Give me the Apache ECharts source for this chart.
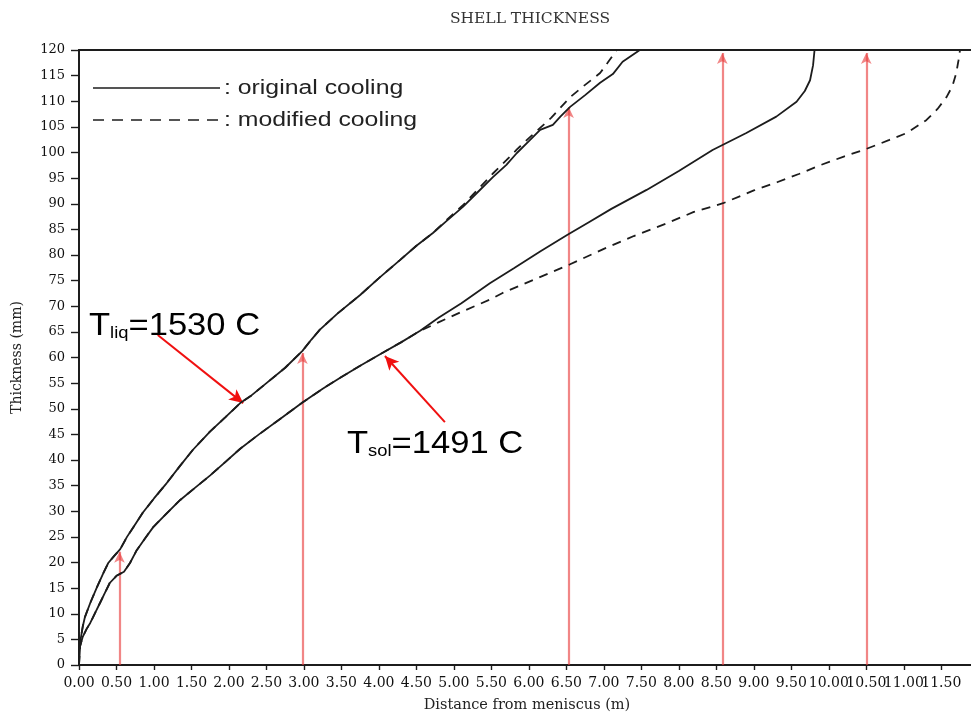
<!DOCTYPE html>
<html>
<head>
<meta charset="utf-8">
<script src="https://cdn.jsdelivr.net/npm/echarts@6/dist/echarts.min.js"></script>
<style>
  html, body { margin: 0; padding: 0; background: #fff; }
  #chart { width: 971px; height: 718px; }
</style>
</head>
<body>
<div id="chart"></div>
<script>
// Shell thickness (mm) against distance from meniscus (m)

// Liquidus front, original cooling
const liquidusOriginal = [
  [0, 0], [0.01, 2.5], [0.02, 4.9], [0.05, 7.5], [0.08, 9.4], [0.15, 12.1], [0.24, 15.2],
  [0.32, 17.8], [0.39, 19.9], [0.47, 21.3], [0.55, 22.6], [0.64, 25.0], [0.74, 27.2],
  [0.85, 29.7], [1.0, 32.5], [1.17, 35.5], [1.35, 38.9], [1.52, 42.0], [1.75, 45.6],
  [1.95, 48.3], [2.15, 51.1], [2.3, 52.6], [2.5, 55.0], [2.75, 58.0], [2.98, 61.3],
  [3.1, 63.5], [3.21, 65.4], [3.45, 68.6], [3.75, 72.2], [4.0, 75.5], [4.28, 79.0],
  [4.5, 81.8], [4.72, 84.3], [4.9, 86.6], [5.12, 89.4], [5.3, 92.0], [5.52, 95.2],
  [5.7, 97.6], [5.84, 99.9], [6.0, 102.2], [6.15, 104.4], [6.32, 105.4], [6.42, 107.0],
  [6.55, 108.9], [6.75, 111.2], [6.95, 113.6], [7.12, 115.3], [7.25, 117.7], [7.48, 120]
];

// Liquidus front, modified cooling
const liquidusModified = [
  [0, 0], [0.01, 2.5], [0.02, 4.9], [0.05, 7.5], [0.08, 9.4], [0.15, 12.1], [0.24, 15.2],
  [0.32, 17.8], [0.39, 19.9], [0.47, 21.3], [0.55, 22.6], [0.64, 25.0], [0.74, 27.2],
  [0.85, 29.7], [1.0, 32.5], [1.17, 35.5], [1.35, 38.9], [1.52, 42.0], [1.75, 45.6],
  [1.95, 48.3], [2.15, 51.1], [2.3, 52.6], [2.5, 55.0], [2.75, 58.0], [2.98, 61.3],
  [3.1, 63.5], [3.21, 65.4], [3.45, 68.6], [3.75, 72.2], [4.0, 75.5], [4.28, 79.0],
  [4.5, 81.8], [4.72, 84.3], [4.9, 86.8], [5.12, 89.7], [5.3, 92.5], [5.52, 95.9],
  [5.7, 98.5], [5.84, 100.6], [6.0, 102.8], [6.15, 104.8], [6.3, 106.8], [6.55, 110.8],
  [6.75, 113.2], [6.95, 115.5], [7.05, 117.5], [7.17, 120]
];

// Solidus front, original cooling
const solidusOriginal = [
  [0, 0], [0.0, 3.0], [0.05, 5.5], [0.1, 7.0], [0.15, 8.2], [0.22, 10.3], [0.28, 12.1],
  [0.35, 14.2], [0.41, 16.0], [0.5, 17.4], [0.6, 18.2], [0.68, 19.9], [0.77, 22.4],
  [0.88, 24.7], [0.99, 26.9], [1.15, 29.3], [1.35, 32.2], [1.55, 34.6], [1.75, 37.0],
  [1.95, 39.6], [2.15, 42.2], [2.4, 45.0], [2.7, 48.2], [2.98, 51.2], [3.25, 53.9],
  [3.5, 56.2], [3.75, 58.4], [4.01, 60.6], [4.3, 63.0], [4.55, 65.2], [4.8, 67.8],
  [5.1, 70.6], [5.48, 74.5], [5.8, 77.4], [6.15, 80.7], [6.51, 83.9], [6.8, 86.4],
  [7.1, 89.0], [7.57, 92.7], [8.0, 96.4], [8.45, 100.5], [8.9, 103.8], [9.3, 107.0],
  [9.57, 109.9], [9.68, 112.0], [9.75, 114.1], [9.79, 117.0], [9.81, 120]
];

// Solidus front, modified cooling
const solidusModified = [
  [0, 0], [0.0, 3.0], [0.05, 5.5], [0.1, 7.0], [0.15, 8.2], [0.22, 10.3], [0.28, 12.1],
  [0.35, 14.2], [0.41, 16.0], [0.5, 17.4], [0.6, 18.2], [0.68, 19.9], [0.77, 22.4],
  [0.88, 24.7], [0.99, 26.9], [1.15, 29.3], [1.35, 32.2], [1.55, 34.6], [1.75, 37.0],
  [1.95, 39.6], [2.15, 42.2], [2.4, 45.0], [2.7, 48.2], [2.98, 51.2], [3.25, 53.9],
  [3.5, 56.2], [3.75, 58.4], [4.01, 60.6], [4.3, 63.0], [4.55, 65.2], [4.8, 66.9],
  [5.1, 68.9], [5.48, 71.3], [5.65, 72.6], [6.1, 75.4], [6.55, 78.2], [7.0, 81.2],
  [7.4, 83.7], [7.84, 86.2], [8.2, 88.4], [8.59, 90.1], [9.0, 92.6], [9.31, 94.2],
  [9.6, 95.8], [9.9, 97.6], [10.2, 99.2], [10.5, 100.7], [10.8, 102.4], [11.04, 103.8],
  [11.3, 106.3], [11.45, 108.5], [11.57, 110.8], [11.65, 113.0], [11.7, 115.5],
  [11.73, 118.0], [11.75, 120]
];

// Sampling stations: distance (m) and thickness (mm) reached by the marker
const stationDistances = [0.54, 2.98, 6.53, 8.58, 10.5];
const stationThickness = [22.1, 60.9, 108.9, 119.4, 119.4];

// Callout arrows: [from distance, from thickness, to distance, to thickness]
const calloutArrows = [
  [1.05, 64.4, 2.19, 51.1],
  [4.88, 47.4, 4.08, 60.3]
];

// Axis ranges
const xRange = { min: 0, max: 11.95, step: 0.5 };
const yRange = { min: 0, max: 120, step: 5 };

const serifFont = 'DejaVu Serif';
const sansFont = 'Liberation Sans';
const ink = '#1c1c1c';

const chart = echarts.init(document.getElementById('chart'), null, { renderer: 'canvas' });

const stationLines = stationDistances.map((d, i) => [
  { coord: [d, 0] },
  { coord: [d, stationThickness[i]] }
]);

const calloutLines = calloutArrows.map(a => [
  { coord: [a[0], a[1]] },
  { coord: [a[2], a[3]] }
]);

function curve(name, data, dashed) {
  return {
    name: name,
    type: 'line',
    data: data,
    showSymbol: false,
    symbol: 'none',
    z: 5,
    lineStyle: { color: ink, width: 1.8, type: dashed ? [9, 7] : 'solid' },
    animation: false,
    silent: true
  };
}

function frontLabel(sub, rest, x, y) {
  return {
    type: 'text', x: x, y: y, z: 10, scaleX: 1.08,
    style: {
      text: '{a|T}{b|' + sub + '}{a|' + rest + '}',
      verticalAlign: 'middle',
      rich: {
        a: { fontFamily: sansFont, fontSize: 32, color: '#111', verticalAlign: 'bottom', lineHeight: 36 },
        b: { fontFamily: sansFont, fontSize: 17, color: '#111', verticalAlign: 'bottom', lineHeight: 36 }
      }
    }
  };
}

chart.setOption({
  animation: false,
  backgroundColor: '#fff',
  title: {
    text: 'SHELL THICKNESS',
    left: 525,
    top: 6,
    textAlign: 'center',
    textStyle: { fontFamily: serifFont, fontSize: 15.5, fontWeight: 'normal', color: '#333' }
  },
  grid: {
    left: 79, top: 50, right: -4, bottom: 53,
    containLabel: false,
    outerBoundsMode: 'none',
    show: true,
    borderColor: ink,
    borderWidth: 1.8,
    backgroundColor: '#fff'
  },
  xAxis: {
    type: 'value',
    min: xRange.min, max: xRange.max, interval: xRange.step,
    name: 'Distance from meniscus (m)',
    nameLocation: 'middle',
    nameGap: 33,
    nameTextStyle: { fontFamily: serifFont, fontSize: 14.5, color: '#222' },
    axisLine: { show: true, onZero: false, lineStyle: { color: ink, width: 1.8 } },
    axisTick: { show: true, length: 5, lineStyle: { color: ink, width: 1.4 } },
    axisLabel: {
      fontFamily: serifFont, fontSize: 14, color: '#111', margin: 11,
      showMaxLabel: false, hideOverlap: false,
      formatter: v => v.toFixed(2)
    },
    splitLine: { show: false }
  },
  yAxis: {
    type: 'value',
    min: yRange.min, max: yRange.max, interval: yRange.step,
    name: 'Thickness (mm)',
    nameLocation: 'middle',
    nameGap: 55,
    nameRotate: 90,
    nameTextStyle: { fontFamily: serifFont, fontSize: 14, color: '#222' },
    axisLine: { show: true, onZero: false, lineStyle: { color: ink, width: 1.8 } },
    axisTick: { show: true, length: 8, lineStyle: { color: ink, width: 1.4 } },
    axisLabel: { fontFamily: serifFont, fontSize: 13, color: '#111', margin: 14 },
    splitLine: { show: false }
  },
  series: [
    {
      name: 'stations',
      type: 'line',
      data: [],
      z: 2,
      silent: true,
      markLine: {
        silent: true,
        animation: false,
        symbol: ['none', 'arrow'],
        symbolSize: [8, 11],
        label: { show: false },
        lineStyle: { color: 'rgba(232, 60, 60, 0.62)', width: 2.2, type: 'solid' },
        emphasis: { disabled: true },
        data: stationLines
      }
    },
    {
      name: 'callouts',
      type: 'line',
      data: [],
      z: 6,
      silent: true,
      markLine: {
        silent: true,
        animation: false,
        symbol: ['none', 'arrow'],
        symbolSize: [10, 14],
        label: { show: false },
        lineStyle: { color: '#f01010', width: 2, type: 'solid' },
        emphasis: { disabled: true },
        data: calloutLines
      }
    },
    curve('liquidus, original cooling', liquidusOriginal, false),
    curve('liquidus, modified cooling', liquidusModified, true),
    curve('solidus, original cooling', solidusOriginal, false),
    curve('solidus, modified cooling', solidusModified, true)
  ],
  graphic: [
    // key
    { type: 'line', shape: { x1: 93, y1: 88, x2: 220, y2: 88 }, style: { stroke: ink, lineWidth: 1.7 }, z: 10 },
    { type: 'line', shape: { x1: 93, y1: 120, x2: 220, y2: 120 }, style: { stroke: ink, lineWidth: 1.7, lineDash: [11, 8] }, z: 10 },
    { type: 'text', x: 224, y: 88, scaleX: 1.24, style: { text: ': original cooling', font: '20px Liberation Sans', fill: '#222', verticalAlign: 'middle' }, z: 10 },
    { type: 'text', x: 224, y: 120, scaleX: 1.24, style: { text: ': modified cooling', font: '20px Liberation Sans', fill: '#222', verticalAlign: 'middle' }, z: 10 },
    // front labels
    frontLabel('liq', '=1530 C', 89, 324),
    frontLabel('sol', '=1491 C', 347, 442)
  ]
});
</script>
</body>
</html>
